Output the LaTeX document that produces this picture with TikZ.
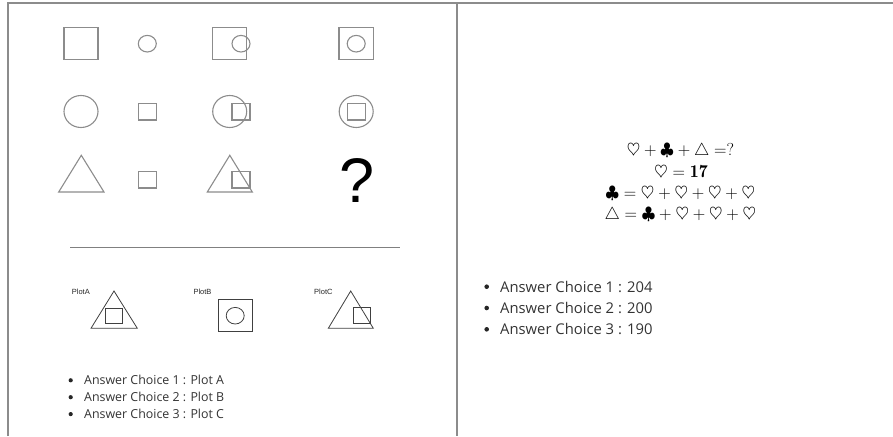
\documentclass[tikz,border=0pt]{standalone}
\usepackage{fontspec}
\newfontfamily\opensans{Open Sans}
\newfontfamily\arial{Liberation Sans}
\begin{document}
\begin{tikzpicture}[x=1pt,y=-1pt,
  frame/.style={draw=black!45,line width=1.1pt},
  shp/.style={draw=black!45,line width=1.1pt},
  plt/.style={draw=black!75,line width=0.8pt},
  lbl/.style={font=\arial\fontsize{7.5}{8}\selectfont,text=black!85,anchor=base west,inner sep=0pt},
  lefttxt/.style={font=\opensans\fontsize{12.4}{14}\selectfont,text=black!80,anchor=base west,inner sep=0pt},
  righttxt/.style={font=\opensans\fontsize{14.8}{17}\selectfont,text=black!80,anchor=base west,inner sep=0pt},
  eq/.style={font=\fontsize{18}{21}\selectfont,anchor=base,inner sep=0pt},
  bul/.style={fill=black!85,draw=none}]
\useasboundingbox (0,0) rectangle (893,436);
% frame
\draw[frame] (8,436) -- (8,3) -- (893,3);
\draw[frame] (457,3) -- (457,436);
% row 1
\draw[shp] (64,27.5) rectangle (98,59.5);
\draw[shp] (147.3,43.7) ellipse (9 and 8.3);
\draw[shp] (212.7,27.5) rectangle (246.7,59.5);
\draw[shp] (241,43.7) ellipse (9 and 8.3);
\draw[shp] (339,27.5) rectangle (373.3,59.5);
\draw[shp] (356.2,43.7) ellipse (9 and 8.3);
% row 2
\draw[shp] (81,111.5) ellipse (17 and 16);
\draw[shp] (138.7,103.3) rectangle (156.3,120);
\draw[shp] (229.7,111.5) ellipse (17 and 16);
\draw[shp] (232,103.3) rectangle (250,120);
\draw[shp] (356.2,111.5) ellipse (17 and 16);
\draw[shp] (347.3,103.3) rectangle (365.3,120);
% row 3
\draw[shp] (58.7,192) -- (81.3,155.3) -- (104,192) -- cycle;
\draw[shp] (138.7,171.3) rectangle (156.3,188);
\draw[shp] (207.3,192) -- (229.8,155.3) -- (252.3,192) -- cycle;
\draw[shp] (232,171.3) rectangle (250,188);
\node[font=\arial\fontsize{63}{63}\selectfont,anchor=base,inner sep=0pt] (q) at (356.7,202) {?};
% separator
\draw[draw=black!50,line width=1.1pt] (70,247.3) -- (400,247.3);
% plots
\node[lbl] (pa) at (71.7,294) {PlotA};
\draw[plt] (91,328.3) -- (114,291) -- (137.3,328.3) -- cycle;
\draw[plt] (105.3,308.3) rectangle (122.7,323.7);
\node[lbl] (pb) at (193.3,294) {PlotB};
\draw[plt] (218.3,299.3) rectangle (252.3,331.3);
\draw[plt] (235.2,315.7) ellipse (9 and 8.3);
\node[lbl] (pc) at (314,294) {PlotC};
\draw[plt] (328.3,328.3) -- (350.7,291) -- (373.3,328.3) -- cycle;
\draw[plt] (353.3,307.7) rectangle (370.7,323.3);
% left answers
\fill[bul] (70.7,380.3) circle (2.1);
\node[lefttxt] (l1) at (84,384.6) {Answer Choice 1 : Plot A};
\fill[bul] (70.7,397.2) circle (2.1);
\node[lefttxt] (l2) at (84,401.5) {Answer Choice 2 : Plot B};
\fill[bul] (70.7,414.1) circle (2.1);
\node[lefttxt] (l3) at (84,418.4) {Answer Choice 3 : Plot C};
% equations
\node[eq] (e1) at (680.5,155.5) {$\heartsuit+\clubsuit+\triangle=?$};
\node[eq] (e2) at (681,177) {$\heartsuit=\mathbf{17}$};
\node[eq] (e3) at (680.3,198) {$\clubsuit=\heartsuit+\heartsuit+\heartsuit+\heartsuit$};
\node[eq] (e4) at (680.3,219.5) {$\triangle=\clubsuit+\heartsuit+\heartsuit+\heartsuit$};
% right answers
\fill[bul] (486.7,286.7) circle (2.3);
\node[righttxt] (r1) at (500,292) {Answer Choice 1 : 204};
\fill[bul] (486.7,308) circle (2.3);
\node[righttxt] (r2) at (500,313.3) {Answer Choice 2 : 200};
\fill[bul] (486.7,329.3) circle (2.3);
\node[righttxt] (r3) at (500,334.6) {Answer Choice 3 : 190};
\end{tikzpicture}
\end{document}
